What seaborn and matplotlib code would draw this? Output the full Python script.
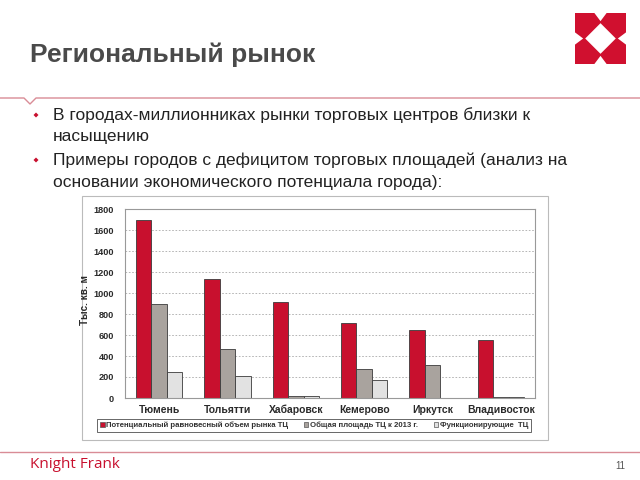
import matplotlib
matplotlib.use("Agg")
import matplotlib.pyplot as plt
import matplotlib.patches as mpatches
import matplotlib.lines as mlines
from matplotlib.patches import Polygon, Rectangle
import seaborn as sns
import pandas as pd

cities = ["Тюмень", "Тольятти", "Хабаровск", "Кемерово", "Иркутск", "Владивосток"]
series_names = ["Потенциальный равновесный объем рынка ТЦ",
                "Общая площадь ТЦ к 2013 г.",
                "Функционирующие  ТЦ"]
potential = [1700, 1130, 915, 715, 645, 555]
total_2013 = [900, 470, 15, 275, 315, 10]
operating = [250, 205, 15, 175, 0, 10]
y_ticks = [0, 200, 400, 600, 800, 1000, 1200, 1400, 1600, 1800]

colors = ["#C8102E", "#A9A39E", "#E2E2E2"]

rows = []
for s, vals in zip(series_names, [potential, total_2013, operating]):
    for c, v in zip(cities, vals):
        rows.append({"city": c, "series": s, "value": v})
df = pd.DataFrame(rows)

sns.set_style("white")
plt.rcParams["font.family"] = ["Liberation Sans", "DejaVu Sans"]

W, H = 640, 480
fig = plt.figure(figsize=(6.4, 4.8), dpi=100)

def fx(x):
    return x / W
def fy(y):
    return 1 - y / H

# Title
fig.text(fx(30), fy(55), "Региональный рынок", fontsize=19, fontweight="bold",
         color="#4a4a4a", va="center", ha="left")

# Red header line with notch
fig.add_artist(mlines.Line2D([0, fx(24), fx(30), fx(36), 1],
                             [fy(98), fy(98), fy(104), fy(98), fy(98)],
                             color="#D98C96", lw=1.0, transform=fig.transFigure))
# Footer line
fig.add_artist(mlines.Line2D([0, 1], [fy(452), fy(452)], color="#D98C96", lw=1.0,
                             transform=fig.transFigure))

# Logo
lx0, ly0, lw, lh = 575, 13, 51, 51
def lp(u, v):
    return (fx(lx0 + u * lw), fy(ly0 + v * lh))
fig.add_artist(Polygon([lp(0, 0), lp(1, 0), lp(1, 1), lp(0, 1)], closed=True,
                       facecolor="#D0102F", edgecolor="none", transform=fig.transFigure))
white_shapes = [
    [lp(0.5, 0.2), lp(0.8, 0.5), lp(0.5, 0.8), lp(0.2, 0.5)],
    [lp(0.38, 0), lp(0.62, 0), lp(0.5, 0.16)],
    [lp(0.38, 1), lp(0.62, 1), lp(0.5, 0.84)],
    [lp(0, 0.38), lp(0, 0.62), lp(0.16, 0.5)],
    [lp(1, 0.38), lp(1, 0.62), lp(0.84, 0.5)],
]
for ws in white_shapes:
    fig.add_artist(Polygon(ws, closed=True, facecolor="white", edgecolor="none",
                           transform=fig.transFigure))

# Bullets
bullet_lines = [
    (115, True, "В городах-миллионниках рынки торговых центров близки к"),
    (137, False, "насыщению"),
    (160, True, "Примеры городов с дефицитом торговых площадей (анализ на"),
    (183, False, "основании экономического потенциала города):"),
]
for y, has_b, t in bullet_lines:
    if has_b:
        fig.add_artist(Polygon([(fx(36), fy(y - 2.5)), (fx(38.5), fy(y)),
                                (fx(36), fy(y + 2.5)), (fx(33.5), fy(y))],
                               closed=True, facecolor="#C8102E", edgecolor="none",
                               transform=fig.transFigure))
    fig.text(fx(53), fy(y), t, fontsize=12.5, color="#222222", va="center", ha="left")

# Footer texts
fig.text(fx(30), fy(465), "Knight Frank", fontsize=11, color="#C8102E",
         va="center", ha="left", family=["Open Sans", "DejaVu Sans"])
fig.text(fx(625), fy(466), "11", fontsize=7, color="#555555", va="center", ha="right")

# Chart outer box (behind the axes)
box = Rectangle((fx(82), fy(440)), fx(548 - 82), (440 - 196) / H,
                facecolor="white", edgecolor="#BBBBBB", lw=0.8,
                transform=fig.transFigure, zorder=-5)
fig.patches.append(box)

# Axes
ax = fig.add_axes([fx(125), fy(398), fx(535 - 125), (398 - 209) / H])
ax.patch.set_alpha(0)
sns.barplot(data=df, x="city", y="value", hue="series", palette=colors,
            width=0.68, gap=0, edgecolor="#3a3a3a", linewidth=0.6,
            saturation=1, ax=ax, legend=False)
ax.set_ylim(0, 1800)
ax.set_xlim(-0.5, len(cities) - 0.5)
ax.set_yticks(y_ticks)
ax.set_yticklabels([str(t) for t in y_ticks], fontsize=6.6, fontweight="bold", color="#2a2a2a")
ax.set_xticks(range(len(cities)))
ax.set_xticklabels(cities, fontsize=7.5, fontweight="bold", color="#2a2a2a")
ax.set_xticks([i + 0.5 for i in range(-1, len(cities))], minor=True)
ax.tick_params(axis="x", which="major", length=0, pad=5)
ax.tick_params(axis="x", which="minor", length=3, color="#888888", direction="out")
ax.tick_params(axis="y", length=3, color="#888888", direction="out", pad=5)
ax.set_xlabel("")
ax.set_ylabel("Тыс. кв. м", fontsize=7.2, fontweight="bold", color="#2a2a2a")
ax.yaxis.set_label_coords(-0.085, 0.52)
ax.yaxis.grid(True, linestyle=(0, (2, 2)), color="#AAAAAA", lw=0.6)
ax.set_axisbelow(True)
for side, sp in ax.spines.items():
    sp.set_visible(True)
    sp.set_color("#999999")
    sp.set_linewidth(0.8)

# Legend
handles = [mpatches.Patch(facecolor=c, edgecolor="#555555", lw=0.5) for c in colors]
leg = fig.legend(handles, series_names, loc="center", ncol=3,
                 bbox_to_anchor=(fx(314), fy(425.5)),
                 prop={"weight": "bold", "size": 5.6},
                 frameon=True, fancybox=False, edgecolor="#222222",
                 handlelength=0.6, handleheight=0.6, handletextpad=0.2,
                 columnspacing=2.0, borderpad=0.35, borderaxespad=0)
leg.get_frame().set_linewidth(0.6)
for t in leg.get_texts():
    t.set_color("#333333")

fig.savefig("out.png", dpi=100)
